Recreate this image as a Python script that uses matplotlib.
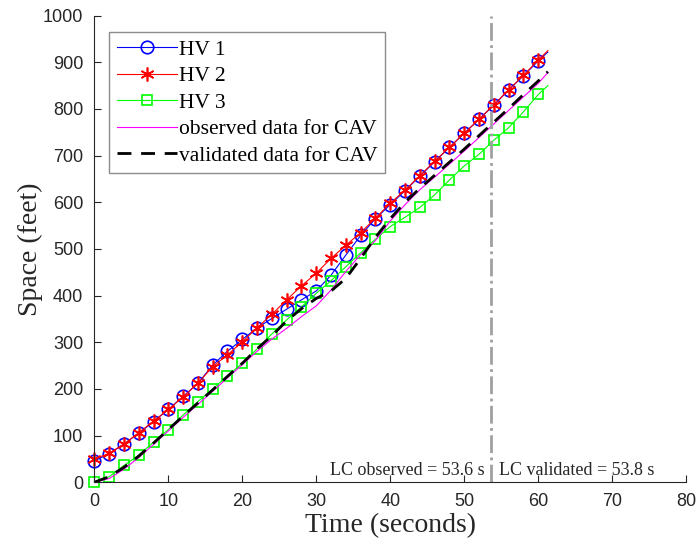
import numpy as np
import matplotlib
matplotlib.use("Agg")
import matplotlib.pyplot as plt

# time stamps (s): markers every 2 s, lines run on to the last sample
t = [0, 2, 4, 6, 8, 10, 12, 14, 16, 18, 20, 22, 24, 26, 28, 30, 32, 34, 36, 38,
     40, 42, 44, 46, 48, 50, 52, 54, 56, 58, 60, 61.3]

hv1 = [46, 61, 82, 105, 130, 156, 184, 212, 251, 281, 306, 331, 351, 371, 391, 410,
       444, 487, 529, 565, 595, 625, 656, 687, 718, 748, 778, 808, 841, 871, 903, 922]
hv2 = [50, 62, 82, 106, 131, 156, 183, 212, 248, 273, 301, 331, 360, 391, 421, 448,
       480, 508, 535, 566, 598, 626, 657, 688, 718, 748, 778, 809, 841, 872, 905, 925]
hv3 = [1, 12, 36, 58, 86, 113, 144, 173, 200, 228, 255, 286, 318, 348, 376, 405,
       432, 462, 492, 521, 548, 568, 589, 616, 648, 678, 703, 733, 760, 794, 831, 850]
cav_observed = [0, 8, 28, 53, 81, 110, 139, 167, 195, 224, 252, 281, 307, 330, 355, 378,
                412, 452, 488, 518, 560, 595, 627, 654, 682, 710, 739, 768, 797, 826, 855, 878]
cav_validated = [0, 12, 32, 56, 84, 113, 142, 170, 198, 227, 255, 286, 314, 346, 372, 394,
                 410, 437, 480, 525, 565, 600, 630, 658, 686, 714, 743, 772, 801, 831, 860, 880]

lc_observed = 53.6
lc_validated = 53.8

SERIF = ["Liberation Serif", "DejaVu Serif"]
SANS = ["Liberation Sans", "DejaVu Sans"]
AXCOL = "#262626"

plt.rcParams["font.family"] = SANS

fig = plt.figure(figsize=(6.97, 5.5), dpi=100)
ax = fig.add_axes([0.1353, 0.1231, 0.8493, 0.8485])

marks = slice(0, len(t) - 1)
ax.plot(t, hv1, color="#0000ff", lw=0.8, marker="o", ms=9, mfc="none", mew=1.2,
        markevery=marks, clip_on=False, label="HV 1")
ax.plot(t, hv2, color="#ff0000", lw=0.8, marker=(6, 2, 0), ms=10, mew=1.2,
        markevery=marks, clip_on=False, label="HV 2")
ax.plot(t, hv3, color="#00ff00", lw=0.8, marker="s", ms=7.5, mfc="none", mew=1.2,
        markevery=marks, clip_on=False, label="HV 3")
ax.plot(t, cav_observed, color="#ff00ff", lw=0.8, label="observed data for CAV")
ax.plot(t, cav_validated, color="black", lw=2, ls=(0, (5, 3.5)),
        label="validated data for CAV")

ax.axvline(lc_observed, color="#a0a0a0", lw=2, ls="-.")
ax.text(lc_observed - 0.9, 15, f"LC observed = {lc_observed} s", ha="right",
        va="baseline", fontsize=13, family=SERIF, color="#262626")
ax.text(lc_observed + 1.1, 15, f"LC validated = {lc_validated} s", ha="left",
        va="baseline", fontsize=13, family=SERIF, color="#262626")

ax.set_xlim(0, 80)
ax.set_ylim(0, 1000)
ax.set_xticks(np.arange(0, 81, 10))
ax.set_yticks(np.arange(0, 1001, 100))
ax.tick_params(direction="in", length=5, width=0.8, colors=AXCOL, labelsize=13,
               pad=8)
for side in ["top", "right"]:
    ax.spines[side].set_visible(False)
for side in ["left", "bottom"]:
    ax.spines[side].set_color(AXCOL)
    ax.spines[side].set_linewidth(0.8)

ax.set_xlabel("Time (seconds)", family=SERIF, fontsize=20, color=AXCOL, labelpad=2)
ax.set_ylabel("Space (feet)", family=SERIF, fontsize=20, color=AXCOL, labelpad=0)

leg = ax.legend(loc="upper left", bbox_to_anchor=(0.025, 0.965), borderaxespad=0,
                prop={"family": SERIF, "size": 15.5}, handlelength=2.8,
                handletextpad=0.1, labelspacing=0.3, borderpad=0.35,
                fancybox=False, framealpha=1)
leg.get_frame().set_edgecolor("#8c8c8c")
leg.get_frame().set_linewidth(1.0)

fig.savefig("out.png", dpi=100)
